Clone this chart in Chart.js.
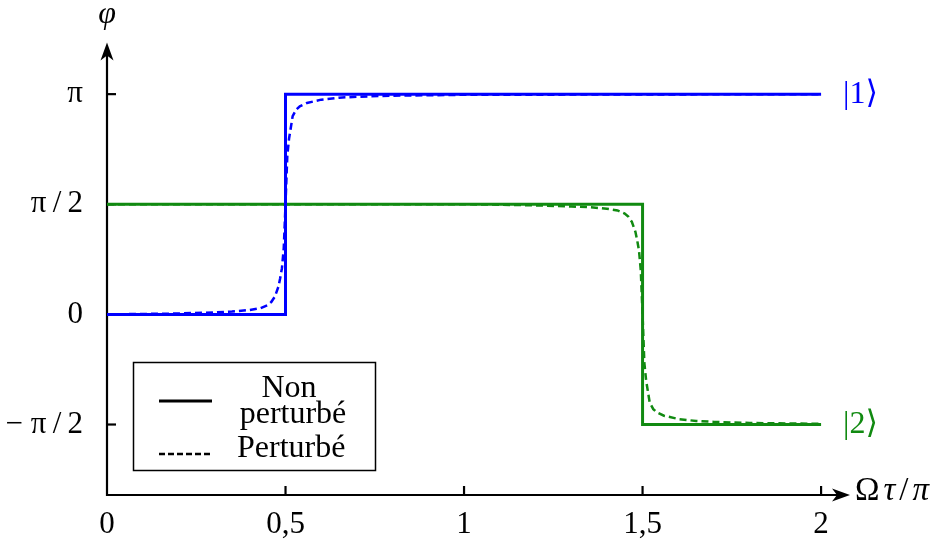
<!DOCTYPE html>
<html>
<head>
<meta charset="utf-8">
<script src="https://cdn.jsdelivr.net/npm/chart.js@4/dist/chart.umd.min.js"></script>
<style>
  html, body { margin: 0; padding: 0; background: #ffffff; }
  #wrap { width: 944px; height: 547px; position: relative; }
</style>
</head>
<body>
<div id="wrap"><canvas id="c" width="944" height="547"></canvas></div>
<script>
// ---- Data (phase in units of pi, x = Omega*tau/pi) ----
const blueSolidX = [0, 0.5, 0.5, 2];
const blueSolidY = [0, 0, 1, 1];
const greenSolidX = [0, 1.5, 1.5, 2];
const greenSolidY = [0.5, 0.5, -0.5, -0.5];

const blueDashedX = [0, 0.1, 0.2, 0.3, 0.35, 0.4, 0.43, 0.45, 0.46, 0.47, 0.48, 0.485, 0.49, 0.495, 0.5, 0.505, 0.51, 0.515, 0.52, 0.53, 0.54, 0.56, 0.6, 0.65, 0.7, 0.8, 1.0, 2.0];
const blueDashedY = [0, 0.002, 0.004, 0.009, 0.013, 0.02, 0.028, 0.042, 0.056, 0.08, 0.125, 0.164, 0.21, 0.3, 0.5, 0.72, 0.8, 0.85, 0.9, 0.93, 0.945, 0.96, 0.975, 0.984, 0.988, 0.993, 0.997, 1];

const greenDashedX = [0, 1.0, 1.1, 1.2, 1.3, 1.35, 1.4, 1.43, 1.45, 1.46, 1.47, 1.48, 1.485, 1.49, 1.495, 1.5, 1.505, 1.51, 1.515, 1.52, 1.53, 1.54, 1.56, 1.6, 1.65, 1.7, 1.8, 2.0];
const greenDashedY = [0.5, 0.5, 0.498, 0.495, 0.49, 0.487, 0.48, 0.472, 0.458, 0.444, 0.42, 0.375, 0.336, 0.29, 0.2, 0, -0.22, -0.3, -0.35, -0.4, -0.43, -0.445, -0.46, -0.475, -0.484, -0.488, -0.493, -0.497];

const xTickValues = [0, 0.5, 1, 1.5, 2];
const xTickLabels = ['0', '0,5', '1', '1,5', '2'];
const yTickValues = [-0.5, 0, 0.5, 1];
const yTickLabels = ['\u2212 \u03c0\u2009/\u20092', '0', '\u03c0\u2009/\u20092', '\u03c0'];

const legendLabels = ['Non', 'perturbé', 'Perturbé'];
const stateLabels = ['|1\u27e9', '|2\u27e9'];
// x title pieces: [text, italic?]
const xTitleParts = [['\u03a9', false], ['\u03c4', true], ['/', false], ['\u03c0', true]];
const yTitle = '\u03c6';

const BLUE = '#0000ff';
const GREEN = '#118a11';
const SERIF = '"Liberation Serif", "DejaVu Serif", serif';

function pts(xs, ys) { return xs.map((x, i) => ({ x: x, y: ys[i] })); }

const overlay = {
  id: 'overlay',
  beforeDatasetsDraw(chart) {
    const ctx = chart.ctx;
    const xs = chart.scales.x, ys = chart.scales.y;
    const a = chart.chartArea;
    const x0 = xs.getPixelForValue(0);
    const yb = a.bottom;
    ctx.save();
    ctx.strokeStyle = '#000';
    ctx.fillStyle = '#000';
    ctx.lineWidth = 2.2;
    // y axis
    ctx.beginPath();
    ctx.moveTo(x0, yb + 1);
    ctx.lineTo(x0, a.top + 10);
    ctx.stroke();
    // x axis
    ctx.beginPath();
    ctx.moveTo(x0 - 1, yb);
    ctx.lineTo(a.right - 10, yb);
    ctx.stroke();
    // arrow heads
    ctx.beginPath();
    ctx.moveTo(x0, a.top);
    ctx.lineTo(x0 - 6.5, a.top + 18);
    ctx.lineTo(x0, a.top + 13);
    ctx.lineTo(x0 + 6.5, a.top + 18);
    ctx.closePath();
    ctx.fill();
    ctx.beginPath();
    ctx.moveTo(a.right, yb);
    ctx.lineTo(a.right - 18, yb - 6.5);
    ctx.lineTo(a.right - 13, yb);
    ctx.lineTo(a.right - 18, yb + 6.5);
    ctx.closePath();
    ctx.fill();
    // inward ticks
    yTickValues.forEach(v => {
      const p = ys.getPixelForValue(v);
      ctx.beginPath(); ctx.moveTo(x0, p); ctx.lineTo(x0 + 9, p); ctx.stroke();
    });
    xTickValues.forEach(v => {
      if (v === 0) return;
      const p = xs.getPixelForValue(v);
      ctx.beginPath(); ctx.moveTo(p, yb); ctx.lineTo(p, yb - 9); ctx.stroke();
    });
    ctx.restore();
  },
  afterDraw(chart) {
    const ctx = chart.ctx;
    const xs = chart.scales.x, ys = chart.scales.y;
    const a = chart.chartArea;
    ctx.save();
    // axis titles
    ctx.fillStyle = '#000';
    ctx.font = 'italic 32px ' + SERIF;
    ctx.textAlign = 'center';
    ctx.textBaseline = 'middle';
    ctx.fillText(yTitle, xs.getPixelForValue(0), 15);
    ctx.textAlign = 'left';
    let tx = a.right + 5;
    xTitleParts.forEach(([t, it]) => {
      ctx.font = (it ? 'italic ' : '') + '33px ' + SERIF;
      ctx.fillText(t, tx, a.bottom - 4);
      tx += ctx.measureText(t).width + 4;
    });
    // state labels
    ctx.font = '32px ' + SERIF;
    ctx.fillStyle = BLUE;
    ctx.fillText(stateLabels[0], xs.getPixelForValue(2) + 22, ys.getPixelForValue(1));
    ctx.fillStyle = GREEN;
    ctx.fillText(stateLabels[1], xs.getPixelForValue(2) + 22, ys.getPixelForValue(-0.5));
    // legend box
    ctx.strokeStyle = '#000';
    ctx.lineWidth = 1.5;
    ctx.strokeRect(133.5, 362.5, 242, 108);
    ctx.lineWidth = 3;
    ctx.beginPath(); ctx.moveTo(159, 401); ctx.lineTo(212, 401); ctx.stroke();
    ctx.lineWidth = 2.5;
    ctx.setLineDash([6, 3]);
    ctx.beginPath(); ctx.moveTo(159, 454); ctx.lineTo(212, 454); ctx.stroke();
    ctx.setLineDash([]);
    ctx.fillStyle = '#000';
    ctx.font = '32px ' + SERIF;
    ctx.textBaseline = 'alphabetic';
    ctx.textAlign = 'center';
    ctx.fillText(legendLabels[0], 289, 397);
    ctx.fillText(legendLabels[1], 293, 423);
    ctx.textAlign = 'left';
    ctx.fillText(legendLabels[2], 237, 457);
    ctx.restore();
  }
};

new Chart(document.getElementById('c'), {
  type: 'line',
  data: {
    datasets: [
      { label: 'blue solid', data: pts(blueSolidX, blueSolidY), borderColor: BLUE, borderWidth: 3, pointRadius: 0, tension: 0, fill: false, order: 1 },
      { label: 'green solid', data: pts(greenSolidX, greenSolidY), borderColor: GREEN, borderWidth: 3, pointRadius: 0, tension: 0, fill: false, order: 2 },
      { label: 'blue dashed', data: pts(blueDashedX, blueDashedY), borderColor: BLUE, borderWidth: 2.5, borderDash: [7, 4], pointRadius: 0, tension: 0, fill: false, order: 3 },
      { label: 'green dashed', data: pts(greenDashedX, greenDashedY), borderColor: GREEN, borderWidth: 2.5, borderDash: [7, 4], pointRadius: 0, tension: 0, fill: false, order: 4 }
    ]
  },
  options: {
    responsive: false,
    animation: false,
    devicePixelRatio: 1,
    layout: { padding: { left: 0, top: 39, right: 94, bottom: 0 } },
    plugins: { legend: { display: false }, tooltip: { enabled: false } },
    scales: {
      x: {
        type: 'linear', min: 0, max: 2.081,
        afterBuildTicks: s => { s.ticks = xTickValues.map(v => ({ value: v })); },
        afterFit: s => { s.height = 52; },
        grid: { display: false, drawTicks: false, tickLength: 0 },
        border: { display: false },
        ticks: {
          padding: 11, color: '#000', maxRotation: 0,
          font: { family: SERIF, size: 31 },
          callback: (v) => { const i = xTickValues.indexOf(v); return i >= 0 ? xTickLabels[i] : ''; }
        }
      },
      y: {
        type: 'linear', min: -0.82, max: 1.234,
        afterBuildTicks: s => { s.ticks = yTickValues.map(v => ({ value: v })); },
        afterFit: s => { s.width = 107; },
        grid: { display: false, drawTicks: false, tickLength: 0 },
        border: { display: false },
        ticks: {
          padding: 24, color: '#000',
          font: { family: SERIF, size: 31 },
          callback: (v) => { const i = yTickValues.indexOf(v); return i >= 0 ? yTickLabels[i] : ''; }
        }
      }
    }
  },
  plugins: [overlay]
});
</script>
</body>
</html>
